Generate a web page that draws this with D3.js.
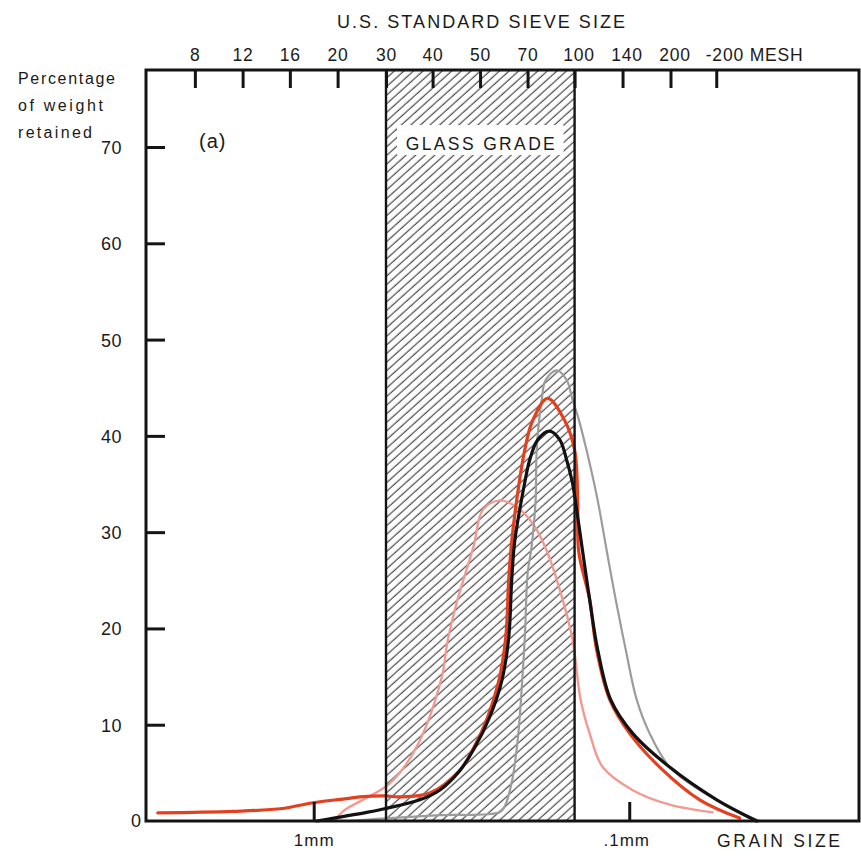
<!DOCTYPE html>
<html><head><meta charset="utf-8">
<script src="https://cdn.jsdelivr.net/npm/d3@7"></script>
<style>
html,body{margin:0;padding:0;background:#fff;}
svg{display:block;}
text{font-family:"Liberation Sans",Arial,Helvetica,sans-serif;fill:#1a1a1a;}
</style>
</head><body>
<svg id="chart" width="861" height="857"></svg>
<script>
// ---- data ----
const sieveLabels = ["8","12","16","20","30","40","50","70","100","140","200","-200 MESH"];
const sieveOpeningsMm = [2.38,1.68,1.19,0.84,0.59,0.42,0.297,0.21,0.149,0.105,0.074,0.053];
const glassGradeMm = [0.59, 0.149];          // 30 to 100 mesh
const mmTicks = [1, 0.1];
const mmTickLabels = ["1mm", ".1mm"];
const yTicks = [10,20,30,40,50,60,70];
const xDomainMm = [3.4, 0.0187];
const yDomain = [0, 78];

// [grain size mm, % weight retained]
const redSample = [[3.12,0.85],[1.806,1.0],[1.254,1.3],[1.007,1.9],[0.798,2.3],[0.715,2.5],[0.591,2.6],[0.534,2.5],[0.429,2.9],[0.345,5.2],[0.309,7.8],[0.2809,10.8],[0.2593,14.5],[0.2464,19],[0.241,25],[0.2358,29],[0.2274,33.3],[0.2145,38.5],[0.2023,41.6],[0.1814,43.9],[0.1602,41.6],[0.1489,38.5],[0.1457,33.3],[0.1446,28],[0.1335,23],[0.1269,17.8],[0.1153,12.6],[0.0997,9.1],[0.0801,5.6],[0.0598,2.2],[0.0447,0.3]];
const blackSample = [[0.978,0],[0.679,0.9],[0.591,1.3],[0.461,2.2],[0.399,3.2],[0.345,5.2],[0.309,7.6],[0.2768,10.8],[0.2537,14.5],[0.241,19],[0.2358,25],[0.2307,29],[0.2145,35.1],[0.2068,37.5],[0.195,39.6],[0.1788,40.5],[0.1661,39.6],[0.1579,37.5],[0.1513,35.1],[0.1457,31.6],[0.1405,28.0],[0.1335,23],[0.1259,17.8],[0.1145,12.6],[0.0975,9.1],[0.0745,5.6],[0.0528,2.2],[0.0395,0]];
const graySample = [[0.769,0],[0.574,0.3],[0.399,0.6],[0.2574,0.9],[0.2482,1.5],[0.2358,4],[0.2257,8.4],[0.2145,18.8],[0.2099,25.7],[0.2039,28.5],[0.198,33.3],[0.1965,38.5],[0.1895,43.7],[0.184,45.8],[0.1698,46.8],[0.1579,45.8],[0.1511,43.7],[0.1457,42.1],[0.1365,38.5],[0.1259,33.3],[0.1179,28.1],[0.1104,23],[0.1026,17.8],[0.0947,12.6],[0.0862,9.1],[0.0745,5.6],[0.0598,3.2],[0.0425,0.6],[0.0386,0]];
const pinkSample = [[0.858,0],[0.809,1],[0.574,3.9],[0.472,7.7],[0.393,14.9],[0.376,18.8],[0.35,23],[0.311,28.6],[0.2913,32.3],[0.2574,33.3],[0.2274,32.6],[0.2023,30.9],[0.1827,28.1],[0.1626,23],[0.1511,18.8],[0.1426,12.6],[0.1335,9.1],[0.1214,5.6],[0.0975,3.2],[0.0745,1.7],[0.0544,0.9]];

// ---- drawing ----
const svg = d3.select("#chart");
const x = d3.scaleLog().domain(xDomainMm).range([146, 859]);
const y = d3.scaleLinear().domain(yDomain).range([821, 70]);
const ink = "#141414";

const defs = svg.append("defs");
defs.append("pattern").attr("id","hatch").attr("patternUnits","userSpaceOnUse")
  .attr("width",10).attr("height",6.4).attr("patternTransform","rotate(-42)")
  .append("line").attr("x1",0).attr("x2",10).attr("y1",3).attr("y2",3)
  .attr("stroke","#3a3a3a").attr("stroke-width",1.1);

// glass grade hatched band
const gx0 = x(glassGradeMm[0]), gx1 = x(glassGradeMm[1]);
svg.append("rect").attr("x",gx0).attr("y",y(yDomain[1])).attr("width",gx1-gx0)
  .attr("height",y(0)-y(yDomain[1])).attr("fill","url(#hatch)");
svg.append("rect").attr("x",gx0+11).attr("y",125).attr("width",gx1-gx0-22).attr("height",30).attr("fill","#fff");
svg.append("text").attr("x",(gx0+gx1)/2).attr("y",150).attr("text-anchor","middle")
  .attr("font-size",17.5).attr("textLength",149).attr("lengthAdjust","spacing").text("GLASS GRADE");

// curves
const line = d3.line().x(d=>x(d[0])).y(d=>y(d[1])).curve(d3.curveCatmullRom.alpha(0.5));
const series = [
  {data: pinkSample, color:"#f29a92", w:2.4},
  {data: graySample, color:"#9c9c9c", w:2.2},
  {data: redSample, color:"#e2401f", w:3.2},
  {data: blackSample, color:"#121212", w:3.2}
];
svg.selectAll("path.curve").data(series).enter().append("path").attr("class","curve")
  .attr("d",d=>line(d.data)).attr("fill","none").attr("stroke",d=>d.color)
  .attr("stroke-width",d=>d.w).attr("stroke-linejoin","round").attr("stroke-linecap","round");

// glass grade boundaries
[gx0,gx1].forEach(gx=>{
  svg.append("line").attr("x1",gx).attr("x2",gx).attr("y1",y(yDomain[1])).attr("y2",y(0))
    .attr("stroke",ink).attr("stroke-width",2.4);
});

// frame
svg.append("rect").attr("x",x(xDomainMm[0])).attr("y",y(yDomain[1]))
  .attr("width",x(xDomainMm[1])-x(xDomainMm[0])).attr("height",y(0)-y(yDomain[1]))
  .attr("fill","none").attr("stroke",ink).attr("stroke-width",3);

// y axis ticks
const yAxis = d3.axisLeft(y).tickValues(yTicks).tickSize(-19).tickPadding(24).tickFormat(d3.format("d"));
const gy = svg.append("g").attr("transform",`translate(${x(xDomainMm[0])},0)`).call(yAxis);
gy.select(".domain").remove();
gy.selectAll(".tick line").attr("stroke",ink).attr("stroke-width",3);
gy.selectAll(".tick text").attr("font-size",18).attr("fill","#1a1a1a").attr("letter-spacing",0.5)
  .attr("font-family",'"Liberation Sans",Arial,sans-serif').attr("dy","0.36em");
svg.append("text").attr("x",x(xDomainMm[0])-5).attr("y",y(0)+6).attr("text-anchor","end")
  .attr("font-size",18).text("0");

// top sieve axis
const xTop = d3.axisTop(x).tickValues(sieveOpeningsMm).tickSize(-18).tickPadding(9)
  .tickFormat((d,i)=>sieveLabels[i]);
const gt = svg.append("g").attr("transform",`translate(0,${y(yDomain[1])})`).call(xTop);
gt.select(".domain").remove();
gt.selectAll(".tick line").attr("stroke",ink).attr("stroke-width",3);
gt.selectAll(".tick text").attr("font-size",17.5).attr("fill","#1a1a1a").attr("letter-spacing",0.8)
  .attr("font-family",'"Liberation Sans",Arial,sans-serif')
  .attr("dx",(d,i)=> i>=8 && i<11 ? 4 : 0)
  .attr("text-anchor",(d,i)=> i===sieveLabels.length-1 ? "start" : "middle")
  .attr("x",(d,i)=> i===sieveLabels.length-1 ? -11 : 0);

// bottom mm axis
const xBot = d3.axisBottom(x).tickValues(mmTicks).tickSize(-19).tickPadding(13)
  .tickFormat((d,i)=>mmTickLabels[i]);
const gb = svg.append("g").attr("transform",`translate(0,${y(0)})`).call(xBot);
gb.select(".domain").remove();
gb.selectAll(".tick line").attr("stroke",ink).attr("stroke-width",3);
gb.selectAll(".tick text").attr("font-size",17).attr("fill","#1a1a1a").attr("letter-spacing",1)
  .attr("font-family",'"Liberation Sans",Arial,sans-serif').attr("dx",(d,i)=>i===1?-3:0);

// labels
svg.append("text").attr("x",481).attr("y",28).attr("text-anchor","middle").attr("font-size",18)
  .attr("textLength",288).attr("lengthAdjust","spacing").text("U.S. STANDARD SIEVE SIZE");
const yl = [["Percentage",97],["of weight",85],["retained",74]];
yl.forEach((t,i)=>{
  svg.append("text").attr("x",18).attr("y",84+i*27).attr("font-size",16)
    .attr("textLength",t[1]).attr("lengthAdjust","spacing").text(t[0]);
});
svg.append("text").attr("x",199).attr("y",148).attr("font-size",20).attr("letter-spacing",1).text("(a)");
svg.append("text").attr("x",717).attr("y",847).attr("font-size",17.5)
  .attr("textLength",123).attr("lengthAdjust","spacing").text("GRAIN SIZE");
</script>
</body></html>
